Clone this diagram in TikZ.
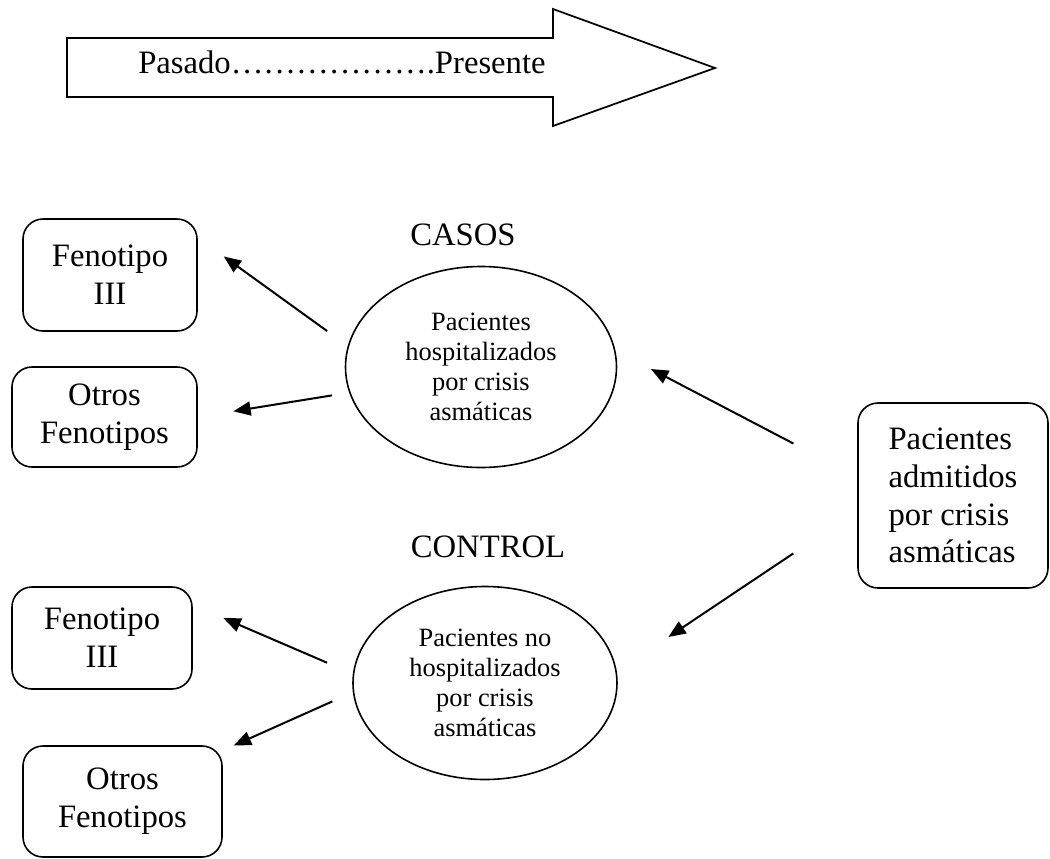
\documentclass[tikz,border=0pt]{standalone}
\usepackage{fontspec}
\setmainfont{Liberation Serif}
\usetikzlibrary{shapes.geometric,arrows.meta}
\newcommand{\letragrande}{\fontsize{24.5}{28.3}\selectfont}
\newcommand{\letrachica}{\fontsize{19.8}{22.5}\selectfont}

\begin{document}
\begin{tikzpicture}[x=0.75pt,y=-0.75pt]
\tikzstyle{every node}+=[inner sep=0pt]
\tikzstyle{caja}=[draw,rounded corners=15pt,line width=1.2pt,align=center,font=\letragrande]
\tikzstyle{elipse}=[draw,ellipse,line width=1.2pt,align=center,font=\letrachica]
\tikzstyle{flecha}=[-{Triangle[length=13pt,width=10.5pt]},line width=1.5pt]
\useasboundingbox (0,0) rectangle (1050,858);
% flecha del tiempo
\draw [line width=1.3pt] (67,38) -- (553,38) -- (553,9) -- (715,68) -- (553,126) -- (553,97) -- (67,97) -- cycle;
\node [anchor=base west,font=\letragrande] (tiempo) at (138,73) {Pasado……………….Presente};
% casos
\node [anchor=base,font=\letragrande] (casos) at (463,245) {CASOS};
\node [elipse,minimum width=203.25pt,minimum height=150.75pt] (casA) at (481,367) {Pacientes\\hospitalizados\\por crisis\\asmáticas};
\node [caja,minimum width=130.5pt,minimum height=84pt] (fenA) at (110,275) {Fenotipo\\III};
\node [caja,minimum width=138.75pt,minimum height=75pt] (otrA) at (104.5,417) {Otros\\Fenotipos};
% control
\node [anchor=base,font=\letragrande] (control) at (488,557) {CONTROL};
\node [elipse,minimum width=198pt,minimum height=144.75pt] (ctlB) at (485,683) {Pacientes no\\hospitalizados\\por crisis\\asmáticas};
\node [caja,minimum width=135pt,minimum height=76.5pt] (fenB) at (102,638) {Fenotipo\\III};
\node [caja,minimum width=149.25pt,minimum height=83.25pt] (otrB) at (122.5,801.5) {Otros\\Fenotipos};
% admitidos
\node [caja,align=left,minimum width=142.5pt,minimum height=138.75pt] (adm) at (953,495.5) {Pacientes\\admitidos\\por crisis\\asmáticas};
% flechas
\draw [flecha,shorten <=19pt,shorten >=24pt] (casA.171) -- (fenA.23);
\draw [flecha,shorten <=13pt,shorten >=27pt] (casA.191) -- (otrA.east);
\draw [flecha,shorten <=54pt,shorten >=30pt] (adm.169) -- (casA.7);
\draw [flecha,shorten <=57.7pt,shorten >=46.5pt] (adm.189) -- (ctlB.5);
\draw [flecha,shorten <=21pt,shorten >=25pt] (ctlB.176) -- (fenB.20);
\draw [flecha,shorten <=16.8pt,shorten >=9pt] (ctlB.184) -- (otrB.27);
\end{tikzpicture}
\end{document}
